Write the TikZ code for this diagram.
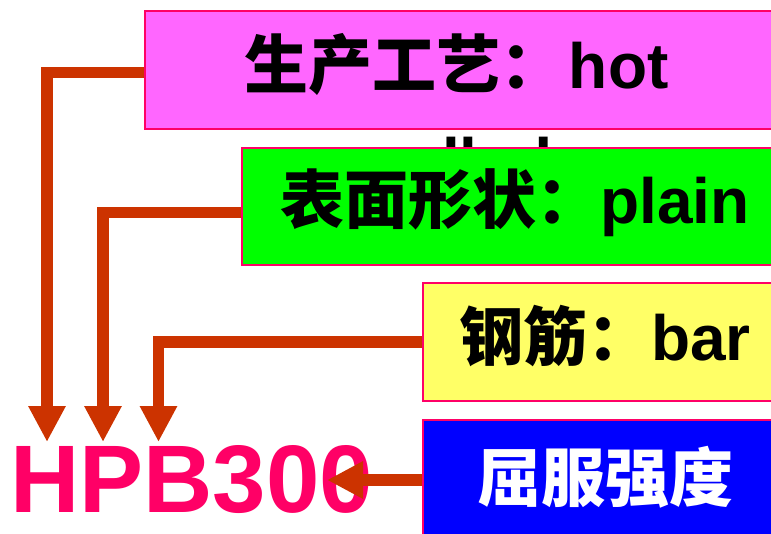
\documentclass[tikz,border=0pt]{standalone}
\usepackage{fontspec}
\setmainfont{Liberation Sans}
\newfontfamily\cjk{Noto Sans CJK SC}
\usetikzlibrary{arrows.meta}
\definecolor{boxline}{HTML}{FF0066}
\definecolor{magfill}{HTML}{FF66FF}
\definecolor{grnfill}{HTML}{00FF00}
\definecolor{yelfill}{HTML}{FFFF66}
\definecolor{blufill}{HTML}{0000FF}
\definecolor{arrowc}{HTML}{CC3300}
\definecolor{hpbc}{HTML}{FF0066}
\tikzset{
  box/.style={draw=boxline, line width=1.5pt, rectangle, inner sep=0pt},
  lbl/.style={inner sep=0pt, anchor=base west, font=\fontsize{64}{76}\selectfont\bfseries},
  conn/.style={draw=arrowc, line width=11.5pt, line join=miter,
    -{Triangle[length=36pt,width=35pt]}},
}
\begin{document}
\begin{tikzpicture}[x=1pt,y=-1pt]
\useasboundingbox (0,0) rectangle (771,533);
\clip (0,0) rectangle (771,533);
% boxes
\node[box, fill=magfill, minimum width=640pt, minimum height=118pt] (b1) at (465,70) {};
\node[lbl] (t1) at (244,88) {{\cjk\bfseries 生产工艺：}\kern-13pt{} hot};
\node[lbl] (t1b) at (378,183) {rolled};
\node[box, fill=grnfill, minimum width=560pt, minimum height=117pt] (b2) at (522,206.5) {};
\node[lbl] (t2) at (280,223) {{\cjk\bfseries 表面形状：}plain};
\node[box, fill=yelfill, minimum width=380pt, minimum height=118pt] (b3) at (613,342) {};
\node[lbl] (t3) at (459,360) {{\cjk\bfseries 钢筋：}bar};
\node[box, fill=blufill, minimum width=380pt, minimum height=120pt] (b4) at (613,480) {};
\node[lbl, text=white] (t4) at (477,501) {\cjk\bfseries 屈服强度};
% HPB300
\node[inner sep=0pt, anchor=base west, text=hpbc,
  font=\fontsize{96}{110}\selectfont\bfseries] (hpb) at (10,512) {HPB300};
% arrow tips
\coordinate (p1) at (47,442);
\coordinate (p2) at (103,442);
\coordinate (p3) at (158.5,442);
\coordinate (p4) at (327,480);
% connectors
\draw[conn] ([yshift=-2.5pt]b1.west) -| (p1);
\draw[conn] ([yshift=-6pt]b2.west) -| (p2);
\draw[conn] (b3.west) -| (p3);
\draw[conn] (b4.west) -- (p4);
\end{tikzpicture}
\end{document}
